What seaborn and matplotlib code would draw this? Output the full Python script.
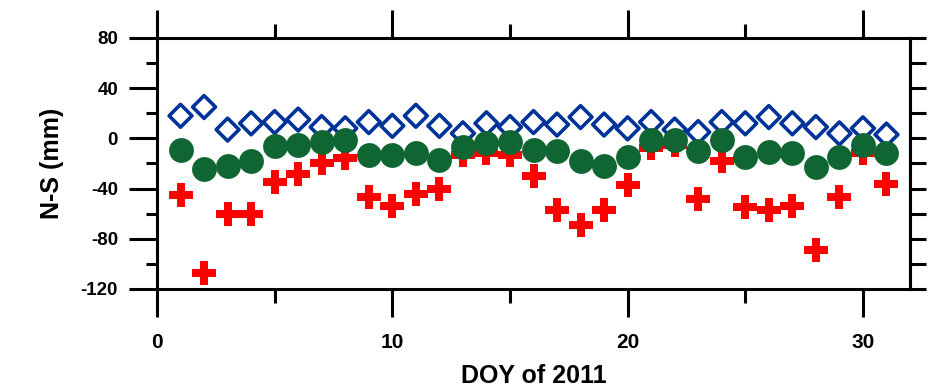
import numpy as np
import pandas as pd
import seaborn as sns
import matplotlib
import matplotlib.pyplot as plt
from matplotlib.ticker import MultipleLocator

matplotlib.use('Agg')

# day of year 2011
days = list(range(1, 32))

# N-S offsets (mm)
blue_ns = [18, 25, 7, 12, 13, 15, 9, 8, 13, 10, 18, 10, 4, 12, 9, 13,
           11, 17, 11, 8, 13, 7, 5, 13, 12, 17, 12, 9, 4, 8, 3]
green_ns = [-9, -24, -22, -18, -6, -5, -3, -1, -13, -13, -12, -17, -7, -4, -3, -9,
            -10, -18, -22, -15, -1, -1, -10, -1, -15, -11, -12, -23, -15, -5, -12]
red_ns = [-45, -107, -60, -60, -35, -28, -20, -16, -47, -54, -44, -40, -13, -12, -13, -30,
          -57, -69, -57, -37, -8, -5, -48, -18, -55, -57, -54, -89, -47, -12, -36]

xticks = [0, 10, 20, 30]
yticks = [-120, -80, -40, 0, 40, 80]

sns.set_style('white')
plt.rcParams['font.family'] = ['Liberation Sans', 'DejaVu Sans']
plt.rcParams['font.weight'] = 'bold'
plt.rcParams['axes.unicode_minus'] = False
plt.rcParams['text.color'] = 'black'
plt.rcParams['axes.labelcolor'] = 'black'
plt.rcParams['xtick.color'] = 'black'
plt.rcParams['ytick.color'] = 'black'

fig = plt.figure(figsize=(9.34, 3.88), dpi=100)
ax = fig.add_axes([0.1681, 0.2552, 0.9743 - 0.1681, 0.9021 - 0.2552])

df = pd.DataFrame({'day': days, 'blue': blue_ns, 'green': green_ns, 'red': red_ns})

sns.scatterplot(data=df, x='day', y='red', marker='P', s=320, color='#ff0000',
                linewidth=0, ax=ax, zorder=3)
sns.scatterplot(data=df, x='day', y='blue', marker='D', s=135, facecolor='none',
                edgecolor='#003399', linewidth=2.6, ax=ax, zorder=4)
sns.scatterplot(data=df, x='day', y='green', marker='o', s=320, color='#0f6632',
                linewidth=0, ax=ax, zorder=5)

ax.set_xlim(0, 32)
ax.set_ylim(-120, 80)
ax.set_xticks(xticks)
ax.set_yticks(yticks)
ax.xaxis.set_minor_locator(MultipleLocator(5))
ax.yaxis.set_minor_locator(MultipleLocator(20))

for s in ax.spines.values():
    s.set_linewidth(2.2)
    s.set_color('black')
    s.set_visible(True)

ax.tick_params(axis='x', which='major', direction='out', length=20, width=2.2,
               top=True, bottom=True, labelsize=15, pad=12)
ax.tick_params(axis='x', which='minor', direction='out', length=10, width=2.2,
               top=True, bottom=True)
ax.tick_params(axis='y', which='major', direction='out', length=20, width=2.2,
               left=True, right=False, labelsize=13.5, pad=8)
ax.tick_params(axis='y', which='minor', direction='out', length=8, width=2.2,
               left=True, right=False)

# right side: short ticks every 20, no labels
sec = ax.secondary_yaxis('right')
sec.set_yticks(np.arange(-120, 81, 20))
sec.tick_params(direction='out', length=11.5, width=2.2, labelright=False)
sec.spines['right'].set_linewidth(2.2)

ax.set_xlabel('DOY of 2011', fontsize=18, fontweight='bold', labelpad=8)
ax.set_ylabel('N-S (mm)', fontsize=18, fontweight='bold', labelpad=12)

fig.savefig('out.png', dpi=100)
plt.close(fig)
